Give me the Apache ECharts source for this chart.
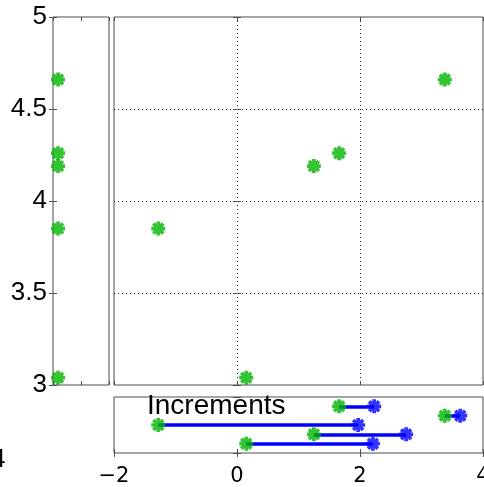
<!DOCTYPE html>
<html><head><meta charset="utf-8">
<script src="https://cdn.jsdelivr.net/npm/echarts@6/dist/echarts.min.js"></script>
<style>html,body{margin:0;padding:0;background:#fff}#c{width:484px;height:487px}</style>
</head><body><div id="c"></div>
<script>
// Data
const yTickLabels = ['3', '3.5', '4', '4.5', '5'];
const xTickLabels = ['−2', '0', '2', '4'];
const pointY = [4.26, 4.66, 3.85, 4.19, 3.04];     // y value of each point
const startX = [1.66, 3.38, -1.28, 1.25, 0.15];    // green (start) x
const endX = [2.23, 3.63, 1.97, 2.75, 2.21];       // blue (end) x
const incRow = [5, 4, 3, 2, 1];                    // row in Increments panel
const marginalX = [0.09, 0.09, 0.09, 0.09, 0.09];  // x in left marginal panel
const incLabel = 'Increments';

const GREEN = '#00b400', BLUE = '#0000ff', FRAME = '#4d4d4d';
const FONT = 'Liberation Sans';
const star = 'path://M-1.6,-6L1.6,-6L1.6,6L-1.6,6Z M-6,-1.6L6,-1.6L6,1.6L-6,1.6Z ' +
  'M3.11,-5.37L5.37,-3.11L-3.11,5.37L-5.37,3.11Z M-5.37,-3.11L-3.11,-5.37L5.37,3.11L3.11,5.37Z';

const tick = {show: true, inside: true, length: 4, lineStyle: {color: FRAME}};
const dotted = {show: true, showMinLine: false, showMaxLine: false,
  lineStyle: {color: '#222', type: [1, 3], width: 1}};
function ax(extra) {
  return Object.assign({type: 'value', axisLine: {show: false}, axisTick: tick,
    axisLabel: {show: false}, splitLine: {show: false}}, extra);
}
const grids = [
  {left: 53, top: 17, width: 56, height: 368},
  {left: 114, top: 17, width: 369, height: 368},
  {left: 114, top: 397, width: 369, height: 56}
].map(g => Object.assign({show: true, borderColor: FRAME, borderWidth: 1, backgroundColor: '#fff',
  containLabel: false, outerBoundsMode: 'none'}, g));

const xAxis = [
  ax({gridIndex: 0, min: 0, max: 1, interval: 0.5, position: 'bottom'}),
  ax({gridIndex: 0, min: 0, max: 1, interval: 0.5, position: 'top'}),
  ax({gridIndex: 1, min: -2, max: 4, interval: 2, position: 'bottom', splitLine: dotted}),
  ax({gridIndex: 1, min: -2, max: 4, interval: 2, position: 'top'}),
  ax({gridIndex: 2, min: -2, max: 4, interval: 2, position: 'bottom',
      axisLabel: {show: true, fontFamily: 'DejaVu Sans', fontSize: 21, color: '#000', margin: 13,
        formatter: v => xTickLabels[Math.round((v + 2) / 2)]}}),
  ax({gridIndex: 2, min: -2, max: 4, interval: 2, position: 'top'})
];
const yAxis = [
  ax({gridIndex: 0, min: 3, max: 5, interval: 0.5, position: 'left',
      axisLabel: {show: true, fontFamily: FONT, fontSize: 26, color: '#000', margin: 6,
        formatter: v => yTickLabels[Math.round((v - 3) / 0.5)]}}),
  ax({gridIndex: 0, min: 3, max: 5, interval: 0.5, position: 'right'}),
  ax({gridIndex: 1, min: 3, max: 5, interval: 0.5, position: 'left', splitLine: dotted}),
  ax({gridIndex: 1, min: 3, max: 5, interval: 0.5, position: 'right'}),
  ax({gridIndex: 2, min: 0, max: 6, interval: 3, position: 'left'}),
  ax({gridIndex: 2, min: 0, max: 6, interval: 3, position: 'right'})
];

const starSeries = (name, data, xi, yi, color) => ({
  type: 'scatter', name, xAxisIndex: xi, yAxisIndex: yi, data,
  symbol: star, symbolSize: 14, itemStyle: {color}, silent: true, animation: false, z: 5
});

const series = [
  starSeries('marg', marginalX.map((x, i) => [x, pointY[i]]), 0, 0, GREEN),
  starSeries('main', startX.map((x, i) => [x, pointY[i]]), 2, 2, GREEN),
  {type: 'lines', coordinateSystem: 'cartesian2d', xAxisIndex: 4, yAxisIndex: 4,
   data: startX.map((x, i) => ({coords: [[x, incRow[i]], [endX[i], incRow[i]]]})),
   lineStyle: {color: BLUE, width: 3.5, opacity: 1}, silent: true, animation: false, z: 3},
  starSeries('incStart', startX.map((x, i) => [x, incRow[i]]), 4, 4, GREEN),
  Object.assign(starSeries('incEnd', endX.map((x, i) => [x, incRow[i]]), 4, 4, BLUE), {z: 6})
];

const chart = echarts.init(document.getElementById('c'), null, {renderer: 'canvas'});
chart.setOption({
  animation: false,
  grid: grids, xAxis, yAxis, series,
  graphic: [
    {type: 'text', left: 147, top: 392, z: 10,
     style: {text: incLabel, font: '28px "Liberation Sans"', fill: '#000'}},
    {type: 'text', left: -9, top: 447, z: 10,
     style: {text: '4', font: '26px "Liberation Sans"', fill: '#000'}}
  ]
});
</script></body></html>
